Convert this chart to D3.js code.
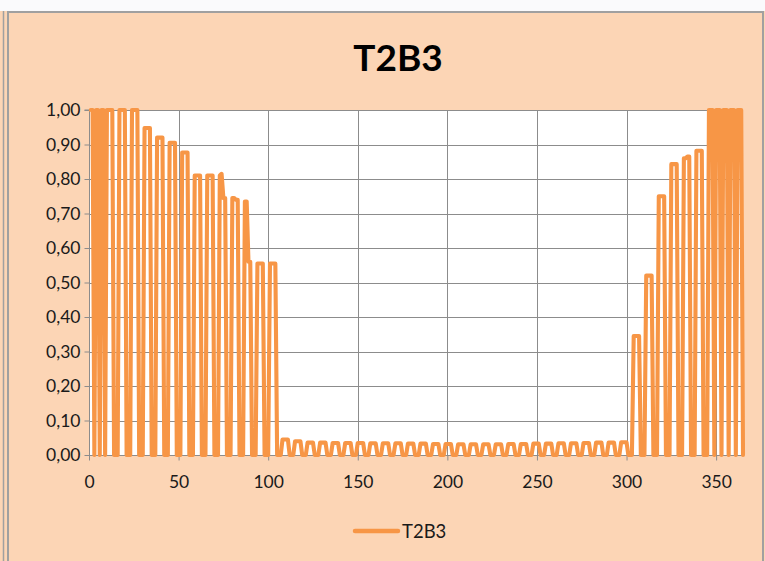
<!DOCTYPE html>
<html>
<head>
<meta charset="utf-8">
<script src="https://cdn.jsdelivr.net/npm/d3@7"></script>
<style>
  html, body { margin: 0; padding: 0; background: #ffffff; }
  svg { display: block; }
</style>
</head>
<body>
<svg id="chart" width="765" height="561"></svg>
<script>
// ---- data ----
const seriesName = "T2B3";
const chartTitle = "T2B3";
const xTicks = [0, 50, 100, 150, 200, 250, 300, 350];
const yTicks = [0, 0.1, 0.2, 0.3, 0.4, 0.5, 0.6, 0.7, 0.8, 0.9, 1.0];
// daily values, one row per 7 days (day 1 .. day 365)
const dailyValues = [
  1,1,0,1,1,0,1,
  1,0,1,1,1,1,0,
  0,0,1,1,1,1,0,
  0,0,1,1,1,1,0,
  0,0,0.948,0.948,0.948,0.948,0,
  0,0,0.92,0.92,0.92,0.92,0,
  0,0,0.905,0.905,0.905,0.905,0,
  0,0,0.877,0.877,0.877,0.877,0,
  0,0,0.81,0.81,0.81,0.81,0,
  0,0,0.81,0.81,0.81,0.81,0,
  0,0,0.81,0.815,0.745,0.745,0,
  0,0,0.745,0.745,0.74,0.74,0,
  0,0,0.735,0.735,0.56,0.56,0,
  0,0,0.555,0.555,0.555,0.555,0,
  0,0,0.555,0.555,0.555,0.555,0,
  0,0,0.045,0.045,0.045,0.045,0,
  0,0,0.04,0.04,0.04,0.04,0,
  0,0,0.036,0.036,0.036,0.036,0,
  0,0,0.036,0.036,0.036,0.036,0,
  0,0,0.035,0.035,0.035,0.035,0,
  0,0,0.035,0.035,0.035,0.035,0,
  0,0,0.035,0.035,0.035,0.035,0,
  0,0,0.034,0.034,0.034,0.034,0,
  0,0,0.034,0.034,0.034,0.034,0,
  0,0,0.034,0.034,0.034,0.034,0,
  0,0,0.033,0.033,0.033,0.033,0,
  0,0,0.033,0.033,0.033,0.033,0,
  0,0,0.032,0.032,0.032,0.032,0,
  0,0,0.032,0.032,0.032,0.032,0,
  0,0,0.031,0.031,0.031,0.031,0,
  0,0,0.031,0.031,0.031,0.031,0,
  0,0,0.031,0.031,0.031,0.031,0,
  0,0,0.031,0.031,0.031,0.031,0,
  0,0,0.032,0.032,0.032,0.032,0,
  0,0,0.032,0.032,0.032,0.032,0,
  0,0,0.033,0.033,0.033,0.033,0,
  0,0,0.033,0.033,0.033,0.033,0,
  0,0,0.034,0.034,0.034,0.034,0,
  0,0,0.034,0.034,0.034,0.034,0,
  0,0,0.035,0.035,0.035,0.035,0,
  0,0,0.036,0.036,0.036,0.036,0,
  0,0,0.036,0.036,0.036,0.036,0,
  0,0,0.037,0.037,0.037,0.037,0,
  0,0,0.345,0.345,0.345,0.345,0,
  0,0,0.52,0.52,0.52,0.52,0,
  0,0,0.75,0.75,0.75,0.75,0,
  0,0,0.843,0.843,0.843,0.843,0,
  0,0,0.86,0.86,0.865,0.865,0,
  0,0,0.882,0.882,0.882,0.882,0,
  0,0,1,1,1,0,1,
  1,1,0,1,1,1,0,
  1,1,1,0,1,1,1,
  0
];
const days = dailyValues.map((v, i) => i + 1);

// ---- layout ----
const W = 765, H = 561;
const plot = { left: 89, right: 743, top: 110, bottom: 455 };
const colors = {
  bg: "#FCD5B5",
  line: "#F79646",
  grid: "#8C8C8C",
  border: "#A0A0A0",
  text: "#1A1A1A"
};

const svg = d3.select("#chart");

// outer background
svg.append("rect").attr("x", 0).attr("y", 0).attr("width", W).attr("height", H).attr("fill", colors.bg);
svg.append("rect").attr("x", 0).attr("y", 0).attr("width", W).attr("height", 11).attr("fill", "#FAFAFC");
svg.append("line").attr("x1", 3.5).attr("x2", 3.5).attr("y1", 11).attr("y2", H)
  .attr("stroke", colors.border).attr("stroke-width", 1.5);
svg.append("rect").attr("x", 8).attr("y", 12).attr("width", W - 10).attr("height", H)
  .attr("fill", colors.bg).attr("stroke", colors.border).attr("stroke-width", 2);

// plot area
svg.append("rect").attr("x", plot.left).attr("y", plot.top)
  .attr("width", plot.right - plot.left).attr("height", plot.bottom - plot.top)
  .attr("fill", "#ffffff");

const x = d3.scaleLinear().domain([0, 365]).range([plot.left, plot.right]);
const y = d3.scaleLinear().domain([0, 1]).range([plot.bottom, plot.top]);

const locale = d3.formatLocale({ decimal: ",", thousands: ".", grouping: [3], currency: ["", "€"] });
const fmtY = locale.format(".2f");

// gridlines
svg.append("g").selectAll("line.h").data(yTicks).join("line")
  .attr("x1", plot.left).attr("x2", plot.right)
  .attr("y1", d => Math.round(y(d)) + 0.5).attr("y2", d => Math.round(y(d)) + 0.5)
  .attr("stroke", colors.grid).attr("stroke-width", 1);
svg.append("g").selectAll("line.v").data(xTicks.filter(d => d > 0)).join("line")
  .attr("x1", d => Math.round(x(d)) + 0.5).attr("x2", d => Math.round(x(d)) + 0.5)
  .attr("y1", plot.top).attr("y2", plot.bottom)
  .attr("stroke", colors.grid).attr("stroke-width", 1);

// axes
const yAxis = d3.axisLeft(y).tickValues(yTicks).tickFormat(fmtY).tickSize(5).tickPadding(4);
const gy = svg.append("g").attr("transform", `translate(${plot.left + 0.5},0)`).call(yAxis);
gy.select(".domain").attr("stroke", colors.grid).attr("d", `M-5,${y(1)}H0V${y(0)}`);
gy.selectAll(".tick line").attr("stroke", colors.grid);
gy.selectAll(".tick text").attr("font-family", "Lato, 'Open Sans', sans-serif")
  .attr("font-size", 17.5).attr("fill", colors.text);

const xAxis = d3.axisBottom(x).tickValues(xTicks).tickFormat(d3.format("d")).tickSize(5).tickPadding(15);
const gx = svg.append("g").attr("transform", `translate(0,${plot.bottom + 0.5})`).call(xAxis);
gx.select(".domain").attr("stroke", colors.grid).attr("d", `M${plot.left},0H${plot.right}`);
gx.selectAll(".tick line").attr("stroke", colors.grid);
gx.selectAll(".tick text").attr("font-family", "Lato, 'Open Sans', sans-serif")
  .attr("font-size", 17.5).attr("fill", colors.text);

// series line
const lineGen = d3.line().x((d, i) => x(days[i])).y(d => y(d));
svg.append("path").datum(dailyValues)
  .attr("d", lineGen)
  .attr("fill", "none")
  .attr("stroke", colors.line)
  .attr("stroke-width", 4.1)
  .attr("stroke-linejoin", "round")
  .attr("stroke-linecap", "round");

// title
svg.append("text").attr("x", 398).attr("y", 71).attr("text-anchor", "middle")
  .attr("font-family", "Lato, 'Open Sans', sans-serif").attr("font-weight", "bold")
  .attr("font-size", 37).attr("fill", "#000").text(chartTitle);

// legend
const lg = svg.append("g");
lg.append("line").attr("x1", 355).attr("x2", 398).attr("y1", 531).attr("y2", 531)
  .attr("stroke", colors.line).attr("stroke-width", 4.5).attr("stroke-linecap", "round");
lg.append("text").attr("x", 402).attr("y", 538)
  .attr("font-family", "Lato, 'Open Sans', sans-serif").attr("font-size", 18.5)
  .attr("fill", colors.text).text(seriesName);
</script>
</body>
</html>
